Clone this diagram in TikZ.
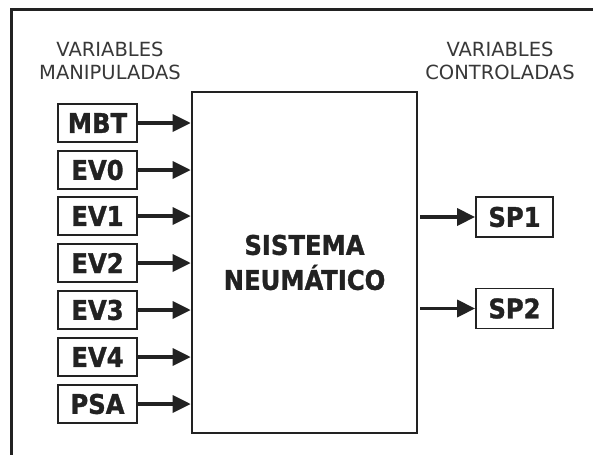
\documentclass[tikz,border=0pt]{standalone}
\usepackage{fontspec}
\setmainfont{DejaVu Sans}
\newfontfamily\condfont[BoldFeatures={FakeBold=1.2}]{DejaVu Sans Condensed}
\usetikzlibrary{arrows.meta}
\definecolor{ink}{HTML}{222222}
\begin{document}
\begin{tikzpicture}[x=1pt,y=-1pt,
  inbox/.style={draw=ink,line width=1.8pt,minimum width=79pt,minimum height=38pt,inner sep=0pt,
     font=\condfont\fontsize{27}{30}\selectfont\bfseries,text=ink},
  outbox/.style={inbox,minimum width=77pt,minimum height=40pt},
  arr/.style={draw=ink,line width=3.4pt,-{Triangle[length=18pt,width=17pt]}},
  lbl/.style={align=center,font=\fontsize{19.5}{23}\selectfont,text=ink!90}]
\useasboundingbox (0,0) rectangle (593,455);
\fill[white] (0,0) rectangle (593,455);
% frame
\draw[ink,line width=3pt] (10,9.5) -- (593,9.5);
\draw[ink,line width=3pt] (11.5,8) -- (11.5,455);
% main box
\node[draw=ink,line width=2.6pt,minimum width=225pt,minimum height=341pt,inner sep=0pt,
  align=center,font=\condfont\fontsize{27}{35}\selectfont\bfseries,text=ink] (main) at (304.5,262.5)
  {SISTEMA\\NEUMÁTICO};
% labels
\node[lbl] (lin) at (110,61) {VARIABLES\\MANIPULADAS};
\node[lbl] (lout) at (500,61) {VARIABLES\\CONTROLADAS};
% inputs
\node[inbox] (mbt) at (97.5,123) {MBT};
\node[inbox] (ev0) at (97.5,170) {EV0};
\node[inbox] (ev1) at (97.5,216) {EV1};
\node[inbox] (ev2) at (97.5,263) {EV2};
\node[inbox] (ev3) at (97.5,310) {EV3};
\node[inbox] (ev4) at (97.5,357) {EV4};
\node[inbox] (psa) at (97.5,404) {PSA};
\foreach \n in {mbt,ev0,ev1,ev2,ev3,ev4,psa}
  \draw[arr] (\n.east) -- (\n.east -| main.west);
% outputs
\node[outbox] (sp1) at (514.5,217) {SP1};
\node[outbox] (sp2) at (514.5,308.5) {SP2};
\foreach \n in {sp1,sp2}
  \draw[arr,shorten <=2pt] (main.east |- \n.west) -- (\n.west);
\end{tikzpicture}
\end{document}
